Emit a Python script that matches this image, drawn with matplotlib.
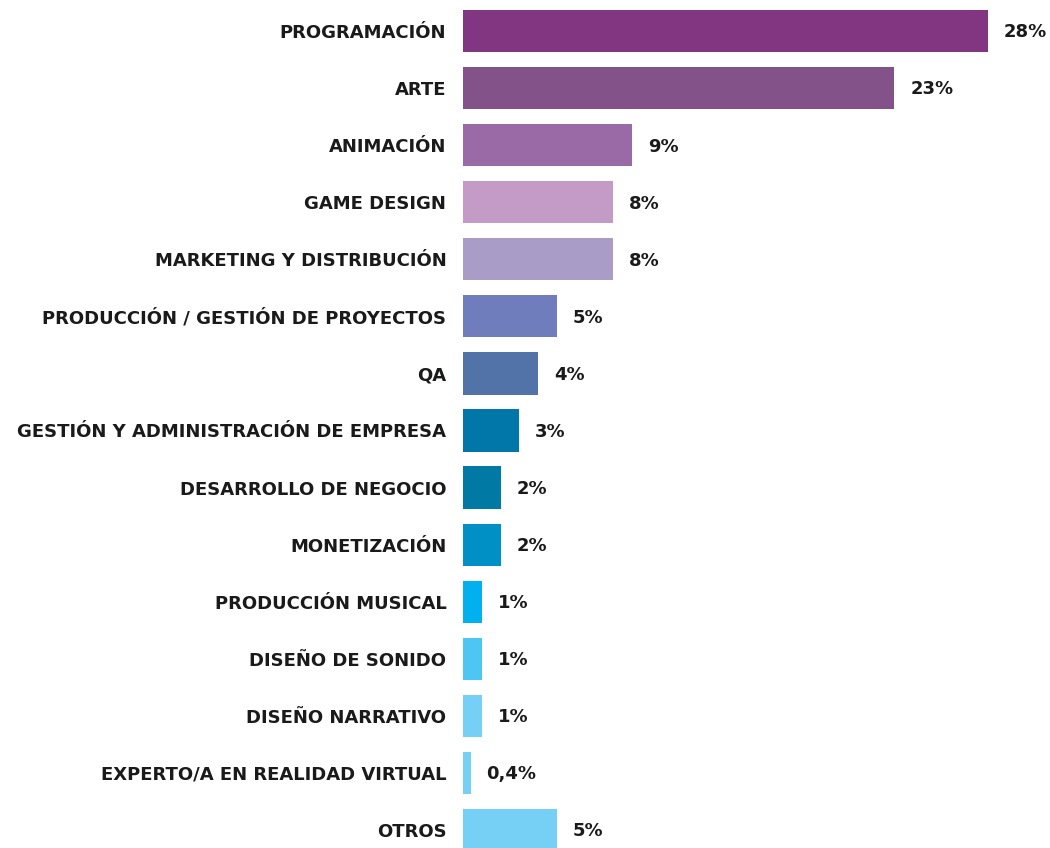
import numpy as np
import matplotlib.pyplot as plt

plt.rcParams["font.family"] = ["DejaVu Sans"]

categories = [
    "PROGRAMACIÓN",
    "ARTE",
    "ANIMACIÓN",
    "GAME DESIGN",
    "MARKETING Y DISTRIBUCIÓN",
    "PRODUCCIÓN / GESTIÓN DE PROYECTOS",
    "QA",
    "GESTIÓN Y ADMINISTRACIÓN DE EMPRESA",
    "DESARROLLO DE NEGOCIO",
    "MONETIZACIÓN",
    "PRODUCCIÓN MUSICAL",
    "DISEÑO DE SONIDO",
    "DISEÑO NARRATIVO",
    "EXPERTO/A EN REALIDAD VIRTUAL",
    "OTROS",
]
values = [28, 23, 9, 8, 8, 5, 4, 3, 2, 2, 1, 1, 1, 0.4, 5]
colors = [
    "#823580", "#835289", "#9a6aa6", "#c49ac6", "#a99cc6",
    "#6f7dbd", "#5173a8", "#0077a8", "#0079a5", "#0090c6",
    "#00b0ef", "#4dc6f4", "#76d0f5", "#76d0f5", "#76d0f5",
]

fig = plt.figure(figsize=(10.5, 8.48), dpi=100)
ax = fig.add_axes([463 / 1050, 0, 587 / 1050, 1])

y = np.arange(len(categories))
ax.barh(y, values, height=0.74, color=colors, edgecolor="none")

for yi, v in zip(y, values):
    txt = f"{v:g}%".replace(".", ",")
    ax.annotate(txt, (v, yi), xytext=(11.5, -1), textcoords="offset points",
                va="center", ha="left", fontsize=13, fontweight="bold",
                color="#1a1a1a")

# roughly 18.75 px per percentage point
ax.set_xlim(0, 587 / 18.75)
ax.set_ylim(14.316, -0.543)
ax.set_yticks(y)
ax.set_yticklabels(categories, fontsize=13, fontweight="bold", color="#1a1a1a")
ax.tick_params(axis="y", length=0, pad=12)
ax.set_xticks([])
for s in ax.spines.values():
    s.set_visible(False)

fig.savefig("out.png", dpi=100)
